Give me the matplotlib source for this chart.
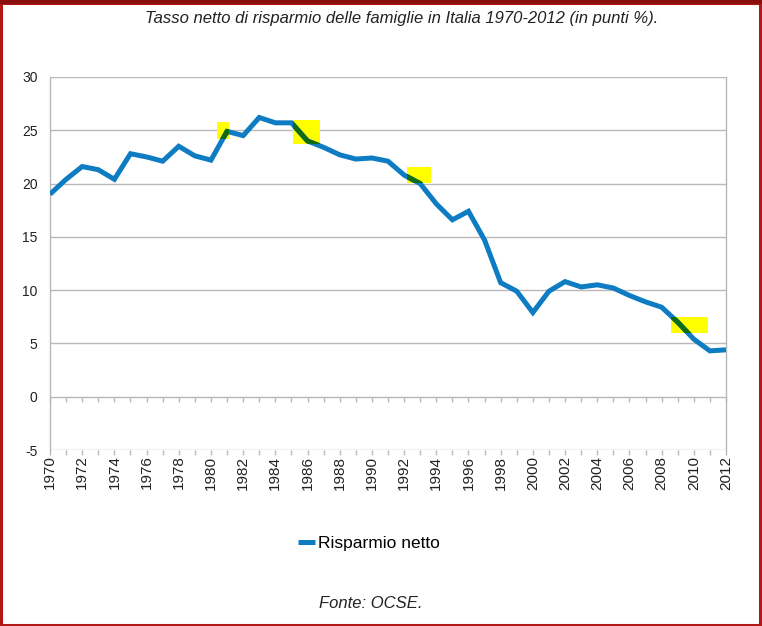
import matplotlib
matplotlib.use("Agg")
import matplotlib.pyplot as plt
from matplotlib.patches import Rectangle

# Tasso netto di risparmio delle famiglie, Italia 1970-2012 (punti %)
years = list(range(1970, 2013))
risparmio = [19.0, 20.4, 21.6, 21.3, 20.4, 22.8, 22.5, 22.1, 23.5, 22.6,
             22.2, 24.9, 24.5, 26.2, 25.7, 25.7, 24.0, 23.4, 22.7, 22.3,
             22.4, 22.1, 20.8, 20.0, 18.1, 16.6, 17.4, 14.7, 10.7, 9.9,
             7.9, 9.9, 10.8, 10.3, 10.5, 10.2, 9.5, 8.9, 8.4, 7.0,
             5.4, 4.3, 4.4]

# yellow highlighter boxes: (year from, year to, value from, value to)
evidenziati = [(1980.4, 1981.1, 24.2, 25.8),
               (1985.1, 1986.8, 23.7, 26.0),
               (1992.2, 1993.7, 20.05, 21.6),
               (2008.6, 2010.9, 5.95, 7.45)]

yticks = list(range(-5, 31, 5))
xlabels = list(range(1970, 2013, 2))

plt.rcParams['font.family'] = ['Liberation Sans', 'DejaVu Sans']

fig = plt.figure(figsize=(7.62, 6.26), dpi=100)
ax = fig.add_axes([50 / 762, 1 - 450 / 626, 676 / 762, 373 / 626])

blue = '#0d7cc3'
grid = '#b8b8b8'

ax.set_xlim(1970, 2012)
ax.set_ylim(-5, 30)
for y in yticks:
    ax.axhline(y, color=grid, lw=1, zorder=1)

# highlighter boxes
boxes = []
for x0, x1, y0, y1 in evidenziati:
    r = Rectangle((x0, y0), x1 - x0, y1 - y0, facecolor='#ffff00',
                  edgecolor='none', zorder=2)
    ax.add_patch(r)
    boxes.append(r)

ax.plot(years, risparmio, color=blue, lw=3.6, solid_joinstyle='miter',
        solid_capstyle='butt', zorder=3, label='Risparmio netto')
# where the marker covers the line it turns green
for r in boxes:
    g, = ax.plot(years, risparmio, color='#0f6b14', lw=3.6,
                 solid_capstyle='butt', zorder=4)
    g.set_clip_path(r)

# year ticks along the zero line and along the bottom
for yy in (0, -5):
    ax.vlines(years, yy - 0.5, yy, color=grid, lw=1, zorder=1, clip_on=False)

for s in ['top', 'bottom']:
    ax.spines[s].set_visible(False)
for s in ['left', 'right']:
    ax.spines[s].set_color(grid)
    ax.spines[s].set_linewidth(1)

ax.set_yticks(yticks)
ax.set_yticklabels([str(v) for v in yticks], fontsize=10, color='#222222')
ax.tick_params(axis='y', length=0, pad=9)
ax.set_xticks(xlabels)
ax.set_xticklabels([str(v) for v in xlabels], rotation=90, fontsize=11,
                   color='#222222')
ax.tick_params(axis='x', length=0, pad=4)

fig.text(402 / 762, 1 - 18 / 626,
         'Tasso netto di risparmio delle famiglie in Italia 1970-2012 (in punti %).',
         ha='center', va='center', fontsize=12, style='italic', color='#222222')

ax.legend(loc='center', bbox_to_anchor=(369 / 762, 1 - 543 / 626),
          bbox_transform=fig.transFigure, frameon=False, fontsize=12.5,
          handlelength=1.0, handletextpad=0.2)

fig.text(371 / 762, 1 - 604 / 626, 'Fonte: OCSE.', ha='center', va='center',
         fontsize=12, style='italic', color='#222222')

# red frame around the picture
fig.patches.append(Rectangle((0.001, 0.002), 0.996, 0.994,
                             transform=fig.transFigure, fill=False,
                             edgecolor='#b01818', lw=2.2))
fig.patches.append(Rectangle((0, 0.994), 1, 0.006, transform=fig.transFigure,
                             facecolor='#8a1010', edgecolor='none'))

fig.savefig('out.png', dpi=100)
